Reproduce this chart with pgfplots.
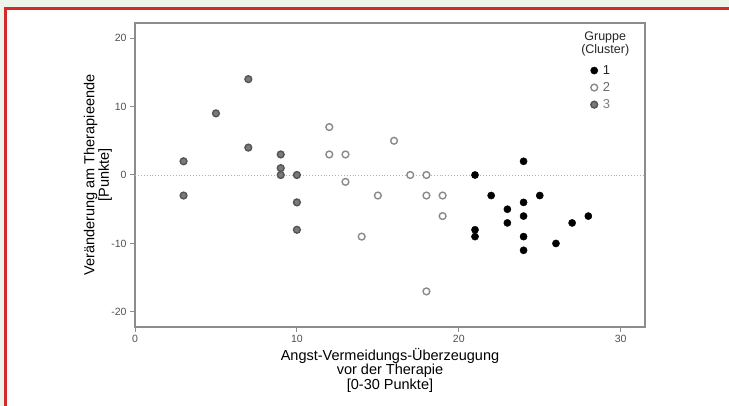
\documentclass[border=0pt]{standalone}
\usepackage{fontspec}
\setmainfont{Liberation Sans}
\usepackage{pgfplots}
\pgfplotsset{compat=1.18}
\definecolor{framered}{HTML}{D22B2B}
\definecolor{bggreen}{HTML}{EDF5EA}
\definecolor{tickgray}{HTML}{505050}
\definecolor{axisgray}{HTML}{8C8C8C}
\definecolor{g2ring}{HTML}{8A8A8A}
\definecolor{g3ring}{HTML}{555555}
\definecolor{g3fill}{HTML}{7A7A7A}

% cluster 1
\pgfplotstableread{
x y
21 0
21 -8
21 -9
22 -3
23 -5
23 -7
24 2
24 -4
24 -6
24 -9
24 -11
25 -3
26 -10
27 -7
28 -6
}\clusterA
% cluster 2
\pgfplotstableread{
x y
12 7
12 3
13 3
13 -1
14 -9
15 -3
16 5
17 0
18 0
18 -3
18 -17
19 -3
19 -6
}\clusterB
% cluster 3
\pgfplotstableread{
x y
3 2
3 -3
5 9
7 14
7 4
9 3
9 1
9 0
10 0
10 -4
10 -8
}\clusterC

\begin{document}
\begin{tikzpicture}[x=1pt,y=1pt]
\path[use as bounding box] (0,0) rectangle (729,406);
\fill[bggreen] (0,0) rectangle (729,406);
\fill[white] (6.5,0) rectangle (729,397);
\draw[framered, line width=2.5pt] (5.5,0) -- (5.5,397.5) -- (729,397.5);
\begin{axis}[
  at={(135pt,79pt)}, anchor=south west,
  scale only axis, width=510pt, height=304pt,
  xmin=0, xmax=31.5, ymin=-22.2, ymax=22.2,
  xtick={0,10,20,30}, ytick={-20,-10,0,10,20},
  tick align=outside, tick pos=left,
  major tick length=5pt,
  axis line style={axisgray, line width=1.2pt},
  every tick/.style={axisgray, line width=1pt},
  tick label style={font=\fontsize{10.5}{12}\selectfont, text=tickgray},
  /pgf/number format/assume math mode=true,
  xlabel={Angst-Vermeidungs-Überzeugung\\vor der Therapie\\{[0-30 Punkte]}},
  xlabel style={at={(axis description cs:0.5,-0.142)}, anchor=center, align=center,
    font=\fontsize{14.5}{14.5}\selectfont},
  ylabel={Veränderung am Therapieende\\{[Punkte]}},
  ylabel style={at={(axis description cs:-0.073,0.5)}, anchor=center, align=center,
    font=\fontsize{14.5}{14.5}\selectfont},
  legend style={at={(axis description cs:0.893,0.868)}, anchor=north west,
    draw=none, fill=none, font=\fontsize{13}{13}\selectfont,
    row sep=2.5pt, inner sep=0pt},
  legend cell align=left,
]
\addplot[black!30, dotted, line width=0.9pt, forget plot] coordinates {(0,0) (31.5,0)};
\addplot[only marks, mark=*, mark size=3.6pt, mark options={draw=black, fill=black}]
  table {\clusterA};
\addlegendentry[text=black!85]{\hspace{3pt}1}
\addplot[only marks, mark=*, mark size=3.4pt,
  mark options={draw=g2ring, fill=white, line width=1.4pt}]
  table {\clusterB};
\addlegendentry[text=black!60]{\hspace{3pt}2}
\addplot[only marks, mark=*, mark size=3.4pt,
  mark options={draw=g3ring, fill=g3fill, line width=1.4pt}]
  table {\clusterC};
\addlegendentry[text=black!50]{\hspace{3pt}3}
\node[align=center, font=\fontsize{12.5}{13}\selectfont, text=black!85]
  at (axis description cs:0.922,0.932) {Gruppe\\(Cluster)};
\end{axis}
\end{tikzpicture}
\end{document}
